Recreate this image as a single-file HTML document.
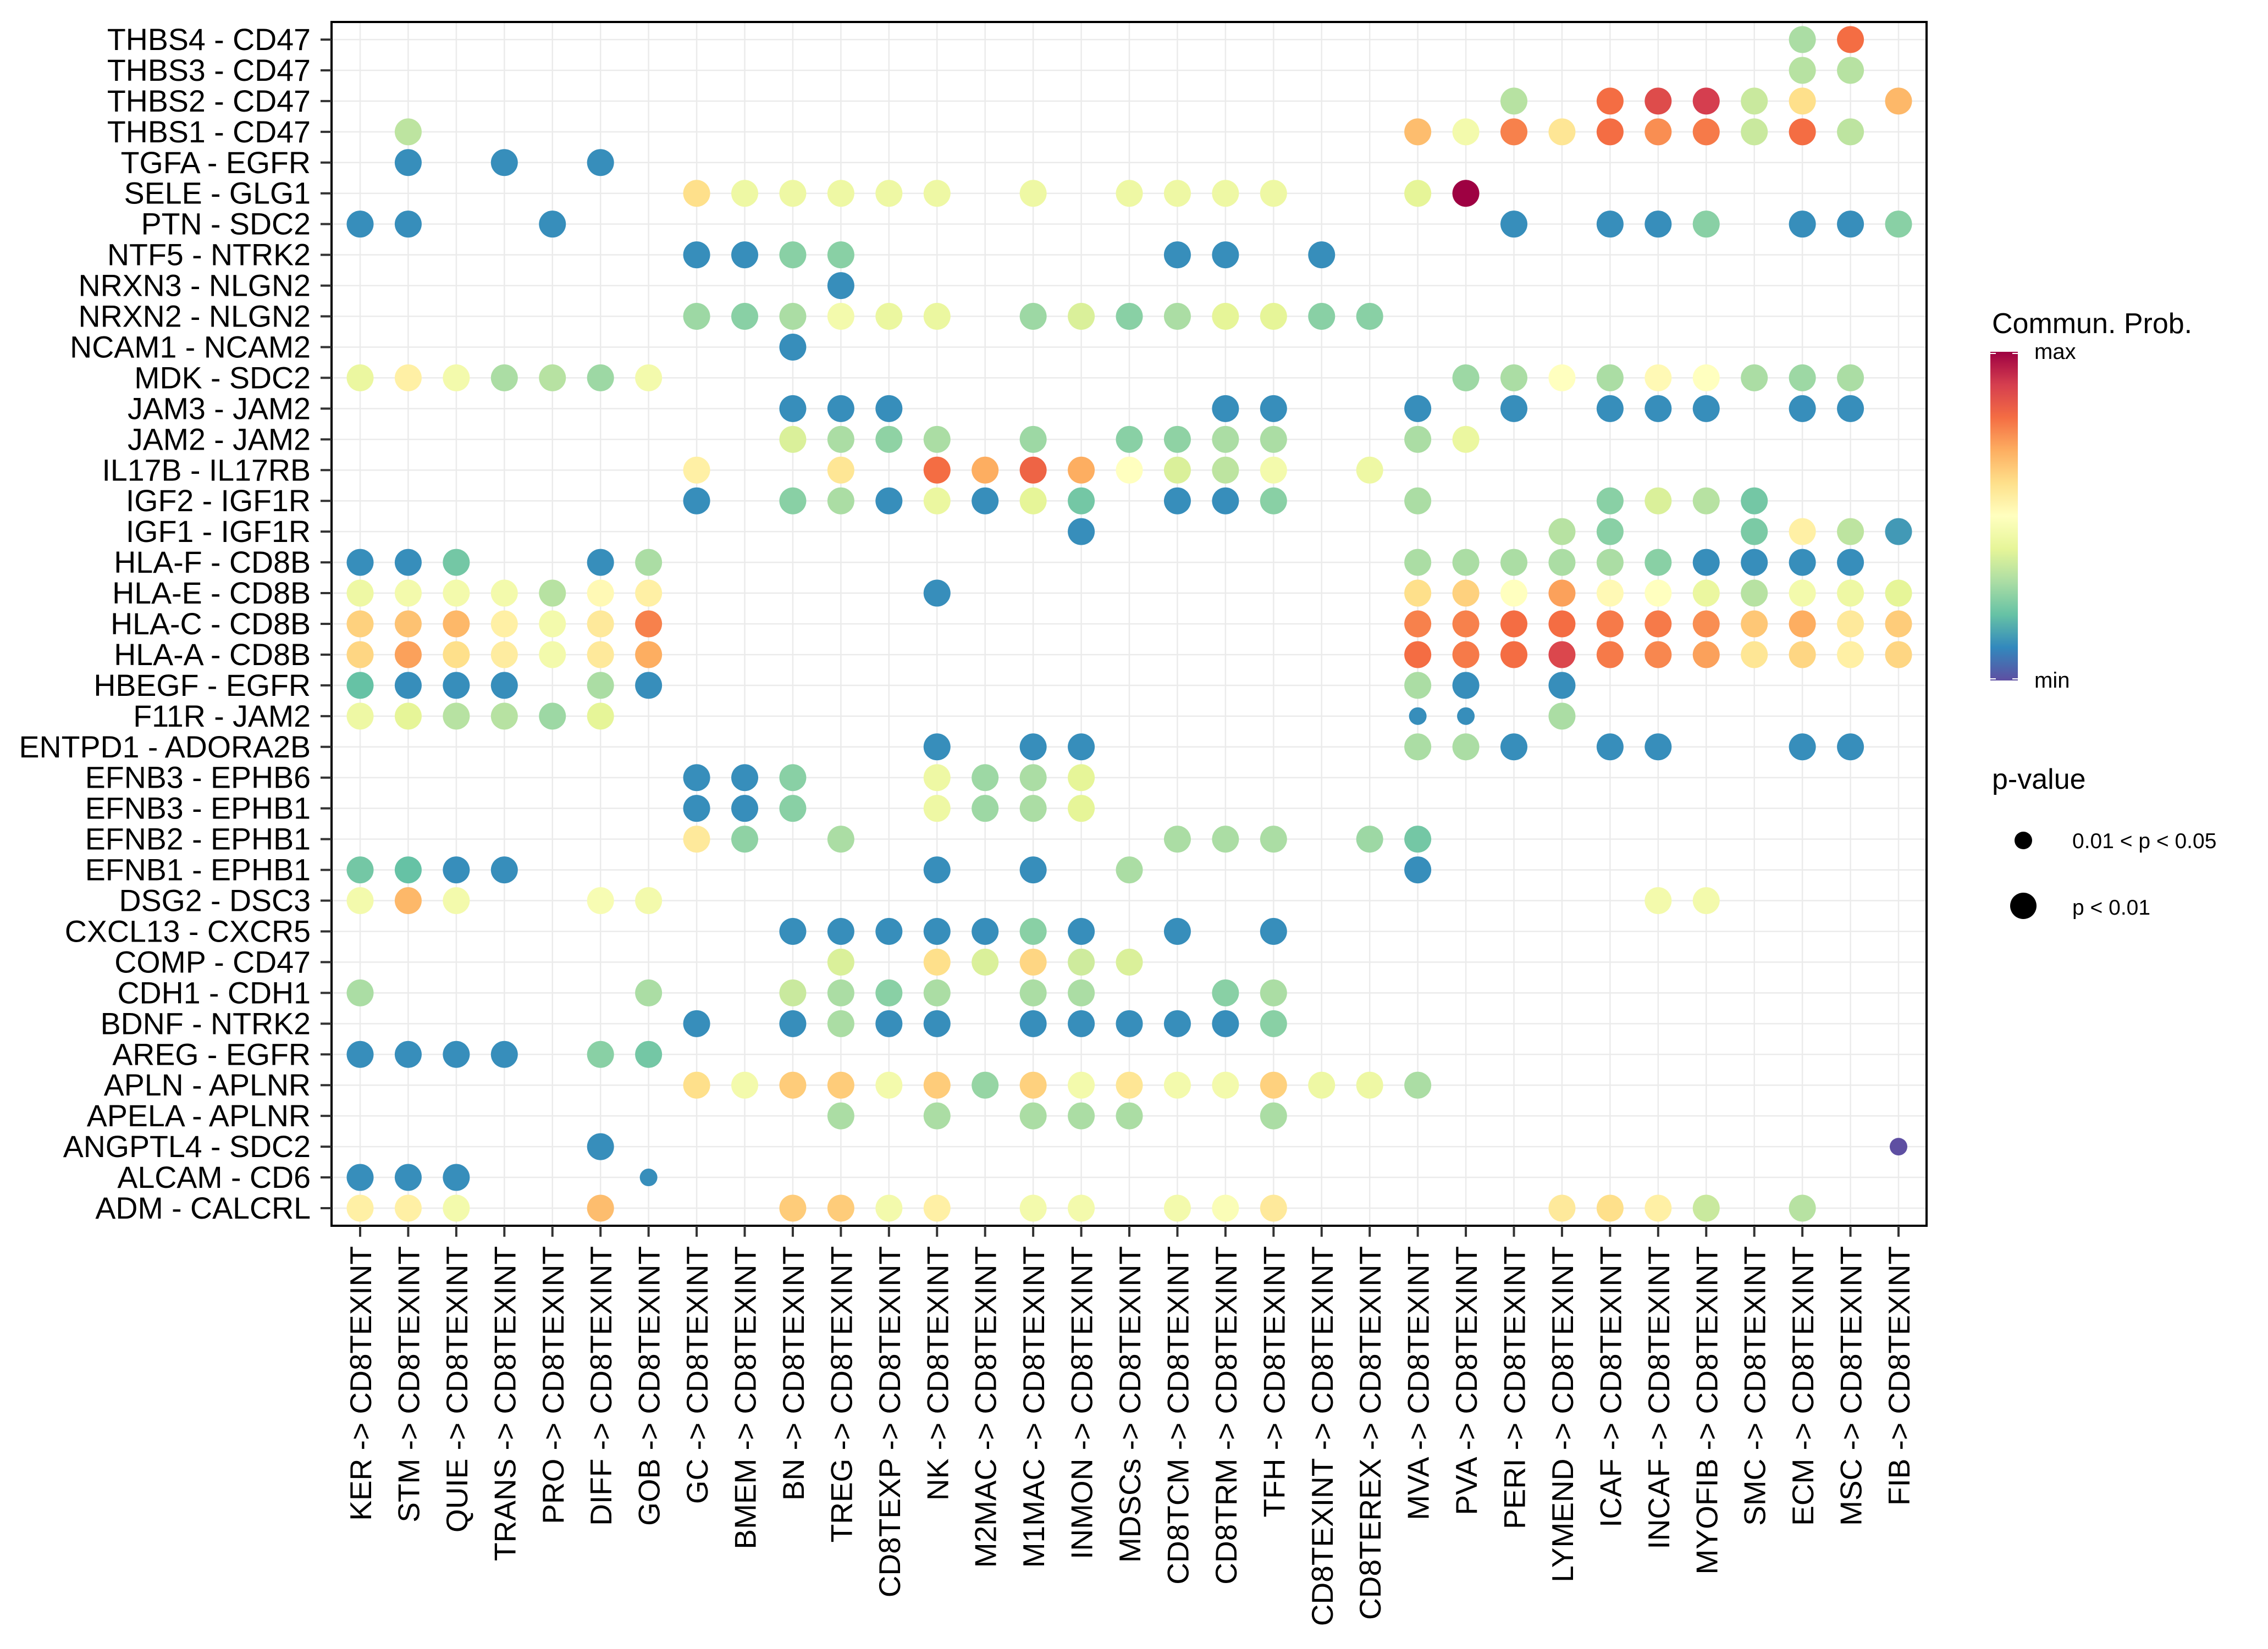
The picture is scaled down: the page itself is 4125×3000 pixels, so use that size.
<!DOCTYPE html>
<html><head><meta charset="utf-8"><style>html,body{margin:0;padding:0;background:#fff}svg{display:block}</style></head>
<body>
<svg id="chart" xmlns="http://www.w3.org/2000/svg" width="4125" height="3000" viewBox="0 0 4125 3000" font-family="Liberation Sans, Arial, sans-serif">
<defs>
<linearGradient id="spec" x1="0" y1="1" x2="0" y2="0">
<stop offset="0" stop-color="#5E4FA2"/><stop offset="0.1" stop-color="#3288BD"/><stop offset="0.2" stop-color="#66C2A5"/><stop offset="0.3" stop-color="#ABDDA4"/><stop offset="0.4" stop-color="#E6F598"/><stop offset="0.5" stop-color="#FFFFBF"/><stop offset="0.6" stop-color="#FEE08B"/><stop offset="0.7" stop-color="#FDAE61"/><stop offset="0.8" stop-color="#F46D43"/><stop offset="0.9" stop-color="#D53E4F"/><stop offset="1" stop-color="#9E0142"/>
</linearGradient>
</defs>
<g id="grid"></g>
<g id="dots"></g>
<rect x="603" y="40" width="2901" height="2190" fill="none" stroke="#000" stroke-width="4"/>
<g id="ylab"></g>
<g id="xlab"></g>
<g>
<text x="3623" y="606" font-size="52">Commun. Prob.</text>
<rect x="3620" y="640" width="50" height="598" fill="url(#spec)"/>
<line x1="3620" y1="643" x2="3630" y2="643" stroke="#fff" stroke-width="2"/><line x1="3660" y1="643" x2="3670" y2="643" stroke="#fff" stroke-width="2"/>
<line x1="3620" y1="1235" x2="3630" y2="1235" stroke="#fff" stroke-width="2"/><line x1="3660" y1="1235" x2="3670" y2="1235" stroke="#fff" stroke-width="2"/>
<text x="3700" y="653" font-size="40">max</text>
<text x="3700" y="1251" font-size="40">min</text>
</g>
<g>
<text x="3623" y="1435" font-size="52">p-value</text>
<circle cx="3680" cy="1529" r="16" fill="#000"/>
<text x="3769" y="1543" font-size="39">0.01 &lt; p &lt; 0.05</text>
<circle cx="3680" cy="1648" r="24" fill="#000"/>
<text x="3769" y="1664" font-size="39">p &lt; 0.01</text>
</g>
</svg>
<script>
const pairs = ["THBS4 - CD47","THBS3 - CD47","THBS2 - CD47","THBS1 - CD47","TGFA - EGFR","SELE - GLG1","PTN - SDC2","NTF5 - NTRK2","NRXN3 - NLGN2","NRXN2 - NLGN2","NCAM1 - NCAM2","MDK - SDC2","JAM3 - JAM2","JAM2 - JAM2","IL17B - IL17RB","IGF2 - IGF1R","IGF1 - IGF1R","HLA-F - CD8B","HLA-E - CD8B","HLA-C - CD8B","HLA-A - CD8B","HBEGF - EGFR","F11R - JAM2","ENTPD1 - ADORA2B","EFNB3 - EPHB6","EFNB3 - EPHB1","EFNB2 - EPHB1","EFNB1 - EPHB1","DSG2 - DSC3","CXCL13 - CXCR5","COMP - CD47","CDH1 - CDH1","BDNF - NTRK2","AREG - EGFR","APLN - APLNR","APELA - APLNR","ANGPTL4 - SDC2","ALCAM - CD6","ADM - CALCRL"];
const sources = ["KER","STM","QUIE","TRANS","PRO","DIFF","GOB","GC","BMEM","BN","TREG","CD8TEXP","NK","M2MAC","M1MAC","INMON","MDSCs","CD8TCM","CD8TRM","TFH","CD8TEXINT","CD8TEREX","MVA","PVA","PERI","LYMEND","ICAF","INCAF","MYOFIB","SMC","ECM","MSC","FIB"];
// each entry: [source index, communication probability (0..1 scaled), small(1 = 0.01<p<0.05)]
const probs = [
[[30,.3],[31,.8]],
[[30,.32],[31,.32]],
[[24,.32],[26,.8],[27,.87],[28,.9],[29,.35],[30,.6],[32,.68]],
[[1,.33],[22,.67],[23,.45],[24,.77],[25,.58],[26,.8],[27,.75],[28,.78],[29,.35],[30,.8],[31,.33]],
[[1,.11],[3,.11],[5,.11]],
[[7,.6],[8,.43],[9,.43],[10,.43],[11,.43],[12,.43],[14,.43],[16,.43],[17,.43],[18,.43],[19,.43],[22,.4],[23,1]],
[[0,.11],[1,.11],[4,.11],[24,.11],[26,.11],[27,.11],[28,.25],[30,.11],[31,.11],[32,.25]],
[[7,.11],[8,.11],[9,.25],[10,.25],[17,.11],[18,.11],[20,.11]],
[[10,.11]],
[[7,.28],[8,.25],[9,.3],[10,.45],[11,.42],[12,.42],[14,.28],[15,.38],[16,.25],[17,.3],[18,.4],[19,.4],[20,.25],[21,.25]],
[[9,.11]],
[[0,.42],[1,.55],[2,.45],[3,.3],[4,.32],[5,.28],[6,.45],[23,.28],[24,.3],[25,.5],[26,.3],[27,.52],[28,.5],[29,.3],[30,.28],[31,.3]],
[[9,.11],[10,.11],[11,.11],[18,.11],[19,.11],[22,.11],[24,.11],[26,.11],[27,.11],[28,.11],[30,.11],[31,.11]],
[[9,.38],[10,.3],[11,.26],[12,.3],[14,.28],[16,.25],[17,.26],[18,.3],[19,.3],[22,.3],[23,.42]],
[[7,.55],[10,.58],[12,.8],[13,.7],[14,.82],[15,.7],[16,.5],[17,.38],[18,.33],[19,.45],[21,.43]],
[[7,.11],[9,.25],[10,.3],[11,.11],[12,.42],[13,.11],[14,.4],[15,.22],[17,.11],[18,.11],[19,.25],[22,.3],[26,.25],[27,.38],[28,.32],[29,.22]],
[[15,.11],[25,.32],[26,.25],[29,.23],[30,.55],[31,.33],[32,.13]],
[[0,.11],[1,.11],[2,.22],[5,.11],[6,.3],[22,.3],[23,.3],[24,.3],[25,.3],[26,.3],[27,.25],[28,.11],[29,.11],[30,.11],[31,.11]],
[[0,.43],[1,.45],[2,.45],[3,.45],[4,.32],[5,.52],[6,.55],[12,.11],[22,.6],[23,.63],[24,.5],[25,.72],[26,.52],[27,.5],[28,.42],[29,.32],[30,.45],[31,.43],[32,.4]],
[[0,.63],[1,.66],[2,.68],[3,.55],[4,.45],[5,.57],[6,.77],[22,.77],[23,.77],[24,.8],[25,.8],[26,.78],[27,.78],[28,.75],[29,.65],[30,.7],[31,.57],[32,.64]],
[[0,.62],[1,.72],[2,.6],[3,.56],[4,.45],[5,.57],[6,.7],[22,.8],[23,.78],[24,.8],[25,.88],[26,.78],[27,.76],[28,.72],[29,.58],[30,.62],[31,.55],[32,.62]],
[[0,.2],[1,.11],[2,.11],[3,.11],[5,.3],[6,.11],[22,.3],[23,.11],[25,.11]],
[[0,.43],[1,.4],[2,.32],[3,.32],[4,.28],[5,.4],[22,.11,1],[23,.11,1],[25,.3]],
[[12,.11],[14,.11],[15,.11],[22,.3],[23,.3],[24,.11],[26,.11],[27,.11],[30,.11],[31,.11]],
[[7,.11],[8,.11],[9,.25],[12,.43],[13,.28],[14,.3],[15,.4]],
[[7,.11],[8,.11],[9,.25],[12,.43],[13,.28],[14,.3],[15,.4]],
[[7,.57],[8,.26],[10,.3],[17,.3],[18,.3],[19,.3],[21,.28],[22,.22]],
[[0,.22],[1,.2],[2,.11],[3,.11],[12,.11],[14,.11],[16,.3],[22,.11]],
[[0,.45],[1,.68],[2,.45],[5,.47],[6,.45],[27,.45],[28,.45]],
[[9,.11],[10,.11],[11,.11],[12,.11],[13,.11],[14,.25],[15,.11],[17,.11],[19,.11]],
[[10,.38],[12,.6],[13,.38],[14,.62],[15,.36],[16,.38]],
[[0,.3],[6,.3],[9,.35],[10,.3],[11,.25],[12,.3],[14,.3],[15,.3],[18,.25],[19,.3]],
[[7,.11],[9,.11],[10,.3],[11,.11],[12,.11],[14,.11],[15,.11],[16,.11],[17,.11],[18,.11],[19,.25]],
[[0,.11],[1,.11],[2,.11],[3,.11],[5,.25],[6,.22]],
[[7,.6],[8,.45],[9,.64],[10,.64],[11,.45],[12,.64],[13,.27],[14,.63],[15,.45],[16,.58],[17,.45],[18,.45],[19,.63],[20,.43],[21,.43],[22,.3]],
[[10,.3],[12,.3],[14,.3],[15,.3],[16,.3],[19,.3]],
[[5,.11],[32,0,1]],
[[0,.11],[1,.11],[2,.11],[6,.11,1]],
[[0,.55],[1,.55],[2,.45],[5,.67],[9,.64],[10,.64],[11,.45],[12,.55],[14,.45],[15,.45],[17,.45],[18,.48],[19,.57],[25,.57],[26,.6],[27,.55],[28,.35],[30,.32]]
];
const colorStops = ["#5E4FA2","#3288BD","#66C2A5","#ABDDA4","#E6F598","#FFFFBF","#FEE08B","#FDAE61","#F46D43","#D53E4F","#9E0142"];

const NS="http://www.w3.org/2000/svg";
function xPos(i){return 655+i*(3453-655)/(sources.length-1);}
function yPos(r){return 72+r*(2198-72)/(pairs.length-1);}
function hex(c){return [1,3,5].map(k=>parseInt(c.substr(k,2),16));}
function colorOf(v){
  v=Math.max(0,Math.min(1,v));
  const t=v*(colorStops.length-1), i=Math.min(Math.floor(t),colorStops.length-2), f=t-i;
  const a=hex(colorStops[i]), b=hex(colorStops[i+1]);
  return "rgb("+a.map((x,k)=>Math.round(x+(b[k]-x)*f)).join(",")+")";
}
const grid=document.getElementById("grid"), dots=document.getElementById("dots"), ylab=document.getElementById("ylab"), xlab=document.getElementById("xlab");
sources.forEach((s,i)=>{
  const x=xPos(i);
  const l=document.createElementNS(NS,"line");
  
  
  l.setAttribute("x1",x);l.setAttribute("x2",x);l.setAttribute("y1",40);l.setAttribute("y2",2230);
  l.setAttribute("stroke","#EBEBEB");l.setAttribute("stroke-width","2.5");grid.appendChild(l);
  const tk=document.createElementNS(NS,"line");
  
  
  tk.setAttribute("x1",x);tk.setAttribute("x2",x);tk.setAttribute("y1",2230);tk.setAttribute("y2",2250);
  tk.setAttribute("stroke","#333");tk.setAttribute("stroke-width","4");xlab.appendChild(tk);
  const t=document.createElementNS(NS,"text");
  
  
  t.setAttribute("transform","translate("+(x+20)+",2267) rotate(-90)");
  t.setAttribute("text-anchor","end");t.setAttribute("font-size","55");
  t.textContent=s+" -> CD8TEXINT";xlab.appendChild(t);
});
pairs.forEach((p,r)=>{
  const y=yPos(r);
  const l=document.createElementNS(NS,"line");
  
  
  l.setAttribute("x1",603);l.setAttribute("x2",3504);l.setAttribute("y1",y);l.setAttribute("y2",y);
  l.setAttribute("stroke","#EBEBEB");l.setAttribute("stroke-width","2.5");grid.appendChild(l);
  const tk=document.createElementNS(NS,"line");
  
  
  tk.setAttribute("x1",583);tk.setAttribute("x2",603);tk.setAttribute("y1",y);tk.setAttribute("y2",y);
  tk.setAttribute("stroke","#333");tk.setAttribute("stroke-width","4");ylab.appendChild(tk);
  const t=document.createElementNS(NS,"text");
  
  
  t.setAttribute("x",565);t.setAttribute("y",y+19);t.setAttribute("text-anchor","end");t.setAttribute("font-size","55.5");
  t.textContent=p;ylab.appendChild(t);
  probs[r].forEach(d=>{
    const c=document.createElementNS(NS,"circle");
    
    
    c.setAttribute("cx",xPos(d[0]));c.setAttribute("cy",y);
    c.setAttribute("r",d[2]?16:24.5);c.setAttribute("fill",colorOf(d[1]));
    dots.appendChild(c);
  });
});
</script>
</body></html>
